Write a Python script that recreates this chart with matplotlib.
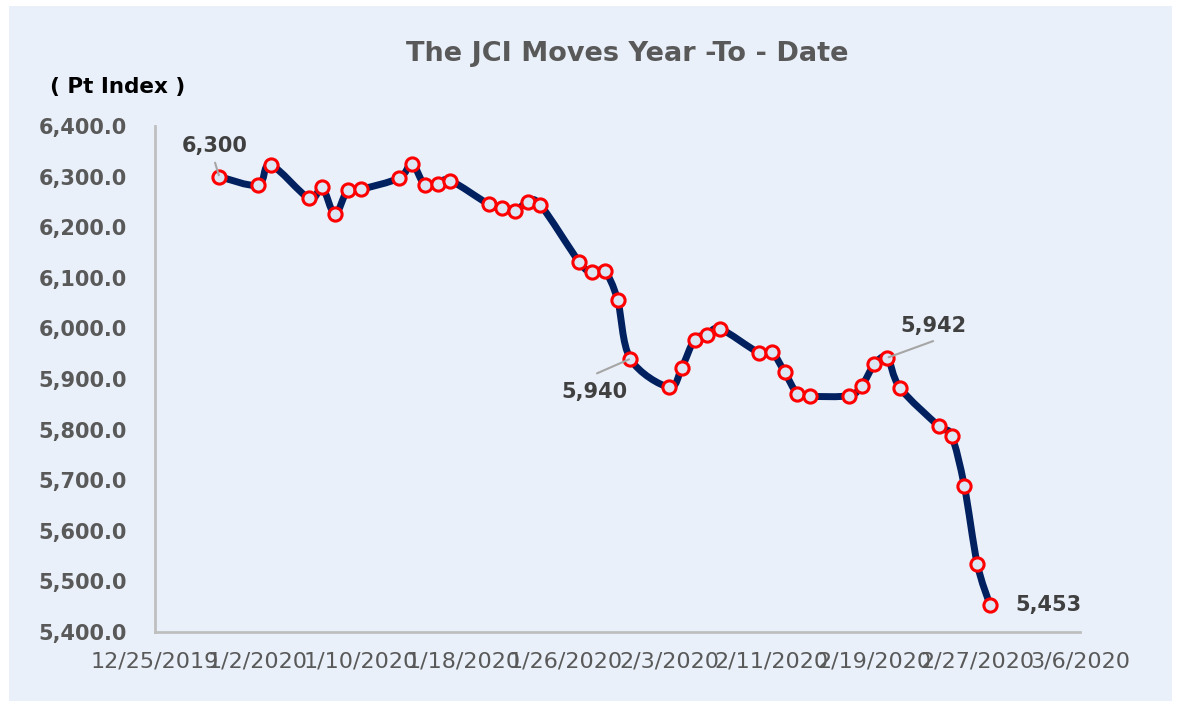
import datetime as dt
import numpy as np
import matplotlib
matplotlib.use("Agg")
from matplotlib import pyplot as plt
import matplotlib.dates as mdates
from matplotlib.path import Path
from matplotlib.patches import PathPatch, Rectangle
from matplotlib.ticker import FuncFormatter, FixedLocator

# JCI daily closes
dates = ['2019-12-30', '2020-01-02', '2020-01-03', '2020-01-06', '2020-01-07',
         '2020-01-08', '2020-01-09', '2020-01-10', '2020-01-13', '2020-01-14',
         '2020-01-15', '2020-01-16', '2020-01-17', '2020-01-20', '2020-01-21',
         '2020-01-22', '2020-01-23', '2020-01-24', '2020-01-27', '2020-01-28',
         '2020-01-29', '2020-01-30', '2020-01-31', '2020-02-03', '2020-02-04',
         '2020-02-05', '2020-02-06', '2020-02-07', '2020-02-10', '2020-02-11',
         '2020-02-12', '2020-02-13', '2020-02-14', '2020-02-17', '2020-02-18',
         '2020-02-19', '2020-02-20', '2020-02-21', '2020-02-24', '2020-02-25',
         '2020-02-26', '2020-02-27', '2020-02-28']
jci = [6300, 6283, 6323, 6257, 6279, 6226, 6274, 6275, 6297, 6325,
       6283, 6286, 6292, 6245, 6238, 6233, 6249, 6244, 6132, 6111,
       6113, 6057, 5940, 5884, 5922, 5978, 5987, 5999, 5952, 5954,
       5914, 5871, 5866, 5867, 5886, 5929, 5942, 5882, 5807, 5788,
       5688, 5535, 5453]

# labelled points: (date, text offset in pt, leader start offset in pt or None)
labelled = [('2019-12-30', (-3, 22), (-3, 10)),
            ('2020-01-31', (-26, -24), (-24, -10.5)),
            ('2020-02-20', (33, 23), (33, 12)),
            ('2020-02-28', (42, 0), None)]

x_ticks = ['2019-12-25', '2020-01-02', '2020-01-10', '2020-01-18', '2020-01-26',
           '2020-02-03', '2020-02-11', '2020-02-19', '2020-02-27', '2020-03-06']
y_ticks = [5400, 5500, 5600, 5700, 5800, 5900, 6000, 6100, 6200, 6300, 6400]

bg = '#E9F0F9'
navy = '#002060'
grey = '#595959'

xs = mdates.date2num([dt.date.fromisoformat(d) for d in dates])
ys = np.array(jci, dtype=float)

fig = plt.figure(figsize=(11.78, 7.02), dpi=100)
fig.patch.set_facecolor('white')
fig.patches.append(Rectangle((9 / 1178, 1 / 702), 1163 / 1178, 695 / 702,
                             transform=fig.transFigure, facecolor=bg,
                             edgecolor='none', zorder=-10))

ax = fig.add_axes([155 / 1178, 1 - 632 / 702, 925 / 1178, 506 / 702])
ax.set_facecolor(bg)
ax.patch.set_alpha(0)

# smoothed line like Excel (cubic bezier through every point)
pts = np.column_stack([xs, ys])
ext = np.vstack([pts[0], pts, pts[-1]])
verts = [pts[0]]
codes = [Path.MOVETO]
for i in range(len(pts) - 1):
    p0, p1, p2, p3 = ext[i], ext[i + 1], ext[i + 2], ext[i + 3]
    verts += [p1 + (p2 - p0) / 6, p2 - (p3 - p1) / 6, p2]
    codes += [Path.CURVE4] * 3
ax.add_patch(PathPatch(Path(verts, codes), facecolor='none', edgecolor=navy,
                       lw=5, capstyle='round', joinstyle='round', zorder=2))

ax.plot(xs, ys, ls='none', marker='o', ms=9.5, mfc='#DDE7F4', mec='#FF0000',
        mew=2.2, zorder=3)

for d, off, lead in labelled:
    i = dates.index(d)
    ax.annotate(f"{jci[i]:,.0f}", (xs[i], ys[i]), xytext=off,
                textcoords='offset points', ha='center', va='center',
                fontsize=15, fontweight='bold', color='#404040', zorder=4)
    if lead is not None:
        ax.annotate('', (xs[i], ys[i]), xytext=lead, textcoords='offset points',
                    arrowprops=dict(arrowstyle='-', color='#A6A6A6', lw=1.5,
                                    shrinkA=0, shrinkB=1), zorder=4)

ax.set_xlim(mdates.date2num(dt.date(2019, 12, 25)), mdates.date2num(dt.date(2020, 3, 6)))
ax.set_ylim(5400, 6400)
ax.xaxis.set_major_locator(FixedLocator(
    mdates.date2num([dt.date.fromisoformat(d) for d in x_ticks])))
ax.xaxis.set_major_formatter(FuncFormatter(
    lambda v, p: (lambda d: f"{d.month}/{d.day}/{d.year}")(mdates.num2date(v))))
ax.yaxis.set_major_locator(FixedLocator(y_ticks))
ax.yaxis.set_major_formatter(FuncFormatter(lambda v, p: f"{v:,.1f}"))

for s in ['top', 'right']:
    ax.spines[s].set_visible(False)
for s in ['left', 'bottom']:
    ax.spines[s].set_color('#BFBFBF')
    ax.spines[s].set_linewidth(2)

ax.tick_params(axis='both', length=0)
ax.tick_params(axis='y', pad=20, labelsize=15, labelcolor=grey)
ax.tick_params(axis='x', pad=14, labelsize=16, labelcolor=grey)
for lab in ax.get_yticklabels():
    lab.set_fontweight('bold')

fig.text(627 / 1178, 1 - 54 / 702, 'The JCI Moves Year -To - Date',
         ha='center', va='center', fontsize=19.5, fontweight='bold', color=grey)
fig.text(118 / 1178, 1 - 87 / 702, '( Pt Index )', ha='center', va='center',
         fontsize=15.5, fontweight='bold', color='black')

fig.savefig('out.png', dpi=100, facecolor=fig.get_facecolor())
